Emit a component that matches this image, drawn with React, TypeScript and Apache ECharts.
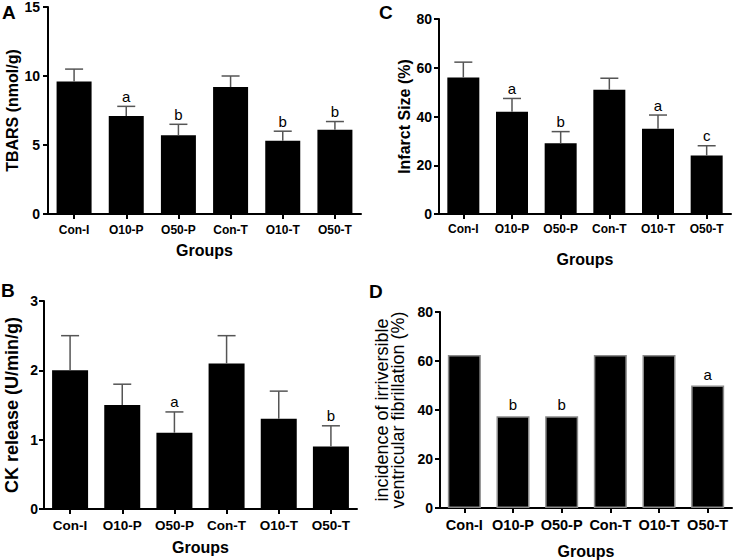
import React, { useEffect, useRef } from "react";
import * as echarts from "echarts";

const categories = ["Con-I", "O10-P", "O50-P", "Con-T", "O10-T", "O50-T"];

const tbarsMean = [9.6, 7.1, 5.7, 9.2, 5.3, 6.1];
const tbarsSem = [0.9, 0.7, 0.8, 0.8, 0.7, 0.6];
const tbarsLetters = ["", "a", "b", "", "b", "b"];

const ckMean = [2.0, 1.5, 1.1, 2.1, 1.3, 0.9];
const ckSem = [0.5, 0.3, 0.3, 0.4, 0.4, 0.3];
const ckLetters = ["", "", "a", "", "", "b"];

const infarctMean = [56, 42, 29, 51, 35, 24];
const infarctSem = [6.3, 5.4, 4.8, 4.7, 5.6, 4.0];
const infarctLetters = ["", "a", "b", "", "a", "c"];

const vfIncidence = [62.5, 37.5, 37.5, 62.5, 62.5, 50];
const vfLetters = ["", "b", "b", "", "", "a"];

const FONT = "'Liberation Sans', Arial, Helvetica, sans-serif";

type PanelCfg = {
  grid: { left: number; top: number; width: number; height: number };
  max: number;
  interval: number;
  mean: number[];
  sem: number[] | null;
  letters: string[];
  yName: string;
  yNameGap: number;
  yNameSize: number;
  yNameWeight: string;
  yNameLineHeight?: number;
  catSize: number;
  catMargin: number;
  xNameGap: number;
  barWidth: number;
  yLabelMargin: number;
  barBorder: boolean;
  letterGap: number;
};

const panels: PanelCfg[] = [
  {
    grid: { left: 48, top: 7, width: 313, height: 207 },
    max: 15, interval: 5,
    mean: tbarsMean, sem: tbarsSem, letters: tbarsLetters,
    yName: "TBARS (nmol/g)", yNameGap: 27, yNameSize: 16, yNameWeight: "bold",
    catSize: 12, catMargin: 10, xNameGap: 28, barWidth: 35, yLabelMargin: 8,
    barBorder: false, letterGap: 2.5,
  },
  {
    grid: { left: 44, top: 301, width: 313, height: 208 },
    max: 3, interval: 1,
    mean: ckMean, sem: ckSem, letters: ckLetters,
    yName: "CK release (U/min/g)", yNameGap: 23, yNameSize: 18, yNameWeight: "bold",
    catSize: 13.5, catMargin: 9, xNameGap: 30, barWidth: 36, yLabelMargin: 6,
    barBorder: false, letterGap: 2.5,
  },
  {
    grid: { left: 439, top: 19, width: 292, height: 195 },
    max: 80, interval: 20,
    mean: infarctMean, sem: infarctSem, letters: infarctLetters,
    yName: "Infarct Size (%)", yNameGap: 25, yNameSize: 16, yNameWeight: "bold",
    catSize: 12, catMargin: 9, xNameGap: 37, barWidth: 32, yLabelMargin: 7,
    barBorder: false, letterGap: 2.5,
  },
  {
    grid: { left: 440, top: 312, width: 292, height: 196 },
    max: 80, interval: 20,
    mean: vfIncidence, sem: null, letters: vfLetters,
    yName: "incidence of irriversible\nventricular fibrillation (%)", yNameGap: 34,
    yNameSize: 18, yNameWeight: "normal", yNameLineHeight: 16,
    catSize: 14.5, catMargin: 9, xNameGap: 35, barWidth: 33, yLabelMargin: 7,
    barBorder: true, letterGap: 4,
  },
];

const panelLetters = [
  { t: "A", x: 2, y: 3 },
  { t: "B", x: 1, y: 281 },
  { t: "C", x: 379, y: 3 },
  { t: "D", x: 369, y: 282 },
];

function buildOption() {
  const grids: any[] = [];
  const xAxes: any[] = [];
  const yAxes: any[] = [];
  const series: any[] = [];

  panels.forEach((p, i) => {
    grids.push({ ...p.grid, containLabel: false });
    xAxes.push({
      type: "category",
      gridIndex: i,
      data: categories,
      boundaryGap: true,
      axisLine: { show: true, lineStyle: { color: "#000", width: 2 } },
      axisTick: { show: true, alignWithLabel: true, length: 5, lineStyle: { color: "#000", width: 2 } },
      axisLabel: { color: "#000", fontFamily: FONT, fontWeight: "bold", fontSize: p.catSize, margin: p.catMargin, interval: 0 },
      name: "Groups",
      nameLocation: "middle",
      nameGap: p.xNameGap,
      nameTextStyle: { color: "#000", fontFamily: FONT, fontWeight: "bold", fontSize: 16 },
      splitLine: { show: false },
    });
    yAxes.push({
      type: "value",
      gridIndex: i,
      min: 0,
      max: p.max,
      interval: p.interval,
      axisLine: { show: true, lineStyle: { color: "#000", width: 2 } },
      axisTick: { show: true, length: 5, lineStyle: { color: "#000", width: 2 } },
      axisLabel: { color: "#000", fontFamily: FONT, fontWeight: "bold", fontSize: 14, margin: p.yLabelMargin },
      splitLine: { show: false },
      name: p.yName,
      nameLocation: "middle",
      nameRotate: 90,
      nameGap: p.yNameGap,
      nameTextStyle: {
        color: "#000",
        fontFamily: FONT,
        fontWeight: p.yNameWeight,
        fontSize: p.yNameSize,
        lineHeight: p.yNameLineHeight,
      },
    });
    series.push({
      type: "bar",
      xAxisIndex: i,
      yAxisIndex: i,
      data: p.mean,
      barWidth: p.barWidth,
      itemStyle: {
        color: "#000",
        borderColor: p.barBorder ? "#8a8a8a" : "#000",
        borderWidth: p.barBorder ? 1.5 : 0,
      },
      silent: true,
    });
    const sem = p.sem;
    const letters = p.letters;
    const letterGap = p.letterGap;
    series.push({
      type: "custom",
      xAxisIndex: i,
      yAxisIndex: i,
      data: p.mean.map((m, k) => [k, m, sem ? sem[k] : 0]),
      encode: { x: 0, y: 1 },
      silent: true,
      z: 5,
      renderItem: (params: any, api: any) => {
        const idx = api.value(0);
        const mean = api.value(1);
        const err = api.value(2);
        const base = api.coord([idx, mean]);
        const top = api.coord([idx, mean + err]);
        const children: any[] = [];
        if (err > 0) {
          children.push({
            type: "line",
            shape: { x1: base[0], y1: base[1], x2: top[0], y2: top[1] },
            style: { stroke: "#555", lineWidth: 1.5 },
          });
          children.push({
            type: "line",
            shape: { x1: top[0] - 9, y1: top[1], x2: top[0] + 9, y2: top[1] },
            style: { stroke: "#555", lineWidth: 1.5 },
          });
        }
        const letter = letters[params.dataIndex];
        if (letter) {
          children.push({
            type: "text",
            style: {
              text: letter,
              x: top[0],
              y: top[1] - letterGap,
              textAlign: "center",
              textVerticalAlign: "bottom",
              fontSize: 15,
              fontFamily: FONT,
              fill: "#000",
            },
          });
        }
        return { type: "group", children };
      },
    });
  });

  return {
    animation: false,
    backgroundColor: "#fff",
    grid: grids,
    xAxis: xAxes,
    yAxis: yAxes,
    series,
    graphic: panelLetters.map((l) => ({
      type: "text",
      left: l.x,
      top: l.y,
      style: { text: l.t, fontSize: 19, fontWeight: "bold", fontFamily: FONT, fill: "#000" },
    })),
  };
}

export default function App() {
  const ref = useRef<HTMLDivElement>(null);
  useEffect(() => {
    if (!ref.current) return;
    const chart = echarts.init(ref.current, null, { renderer: "svg" });
    chart.setOption(buildOption() as any);
    return () => chart.dispose();
  }, []);
  return (
    <div
      ref={ref}
      style={{ position: "absolute", left: 0, top: 0, width: 738, height: 560, background: "#fff" }}
    />
  );
}
